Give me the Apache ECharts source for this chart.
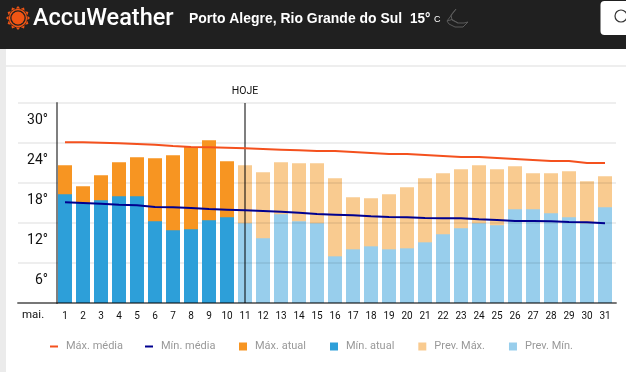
<!DOCTYPE html>
<html><head><meta charset="utf-8">
<style>html,body{margin:0;padding:0;background:#fff}#c{width:626px;height:372px}</style>
<script src="https://cdn.jsdelivr.net/npm/echarts@6/dist/echarts.min.js"></script>
</head><body><div id="c"></div>
<script>
const days = ['1','2','3','4','5','6','7','8','9','10','11','12','13','14','15','16','17','18','19','20','21','22','23','24','25','26','27','28','29','30','31'];
const avgMax = [24.1,24.1,24.05,23.95,23.85,23.75,23.55,23.4,23.35,23.3,23.2,23.1,23,22.9,22.8,22.8,22.65,22.5,22.35,22.35,22.2,22.05,21.9,21.9,21.75,21.6,21.45,21.3,21.3,21,21];
const avgMin = [15.1,15,14.9,14.75,14.65,14.4,14.35,14.25,14.1,14,13.9,13.8,13.7,13.55,13.35,13.25,13.15,13,12.9,12.85,12.75,12.7,12.7,12.55,12.45,12.3,12.3,12.25,12.15,12.1,11.95];
const actualMax = [20.65,17.5,19.15,21.1,21.85,21.7,22.15,23.4,24.4,21.25];
const actualMin = [16.3,15,15.4,16,16,12.25,10.9,11.05,12.4,12.85];
const forecastMax = [20.65,19.6,21.1,20.95,20.95,18.7,15.85,15.7,16.3,17.35,18.7,19.45,20.05,20.65,20.05,20.5,19.45,19.45,19.75,18.25,19];
const forecastMin = [11.95,9.7,13.3,12.25,11.95,7,8.05,8.5,8.05,8.2,9.1,10.3,11.2,11.95,11.65,14.05,14.05,13.45,12.85,11.95,14.35];
const monthLabel = 'mai.';
const todayLabel = 'HOJE';
const todayDay = '11';

const cond = 'Roboto,sans-serif';
const pad = (arr) => Array(days.length - arr.length).fill(null).concat(arr);
const tail = (arr) => arr.concat(Array(days.length - arr.length).fill(null));

const sunRays = [];
for (let i = 0; i < 12; i++) {
  sunRays.push({type:'polygon',x:18,y:18,rotation:i*Math.PI/6,
    shape:{points:[[-2.2,-9.5],[2.2,-9.5],[0,-12]]},style:{fill:'#f05514'},z:101});
}
const dashIcon = 'path://M0,0L0,0M0,3H8V5H0ZM8,8L8,8';

const chart = echarts.init(document.getElementById('c'), null, {renderer:'canvas'});
chart.setOption({
  animation:false,
  backgroundColor:'#fff',
  grid:[
    {left:18,right:10,top:103,height:200},
    {left:56,width:558,top:103,height:200}
  ],
  xAxis:[
    {type:'value',gridIndex:0,min:0,max:1,z:5,splitLine:{show:false},axisTick:{show:false},axisLabel:{show:false},
     axisLine:{show:true,lineStyle:{color:'rgba(0,0,0,.5)',width:2}}},
    {type:'category',gridIndex:1,data:days,z:5,axisLine:{show:false},axisTick:{show:false},
     axisLabel:{interval:0,color:'#111',fontSize:10,fontFamily:cond,margin:8}}
  ],
  yAxis:[
    {type:'value',gridIndex:0,min:0,max:30,interval:6,z:3,axisLine:{show:false},axisTick:{show:false},axisLabel:{show:false},
     splitLine:{show:true,lineStyle:{color:'rgba(0,0,0,.065)',width:2}}},
    {type:'value',gridIndex:1,min:0,max:30,interval:6,z:5,offset:-1,splitLine:{show:false},axisTick:{show:false},
     axisLine:{show:true,onZero:false,lineStyle:{color:'rgba(0,0,0,.5)',width:2}},
     axisLabel:{color:'#111',fontSize:14,fontFamily:cond,margin:9,verticalAlign:'top',lineHeight:14,padding:[10,0,0,0],
       formatter:(v)=> v===0?'':v+'°'}}
  ],
  legend:[
    {left:50,top:341,orient:'horizontal',itemWidth:8,itemHeight:8,itemGap:22,padding:0,icon:dashIcon,
     textStyle:{color:'#999',fontSize:11,fontFamily:cond,padding:[0,0,0,3]},data:['Máx. média','Mín. média']},
    {left:239,top:341,orient:'horizontal',itemWidth:8,itemHeight:8,itemGap:24,padding:0,icon:'rect',
     textStyle:{color:'#999',fontSize:11,fontFamily:cond,padding:[0,0,0,3]},data:['Máx. atual','Mín. atual','Prev. Máx.','Prev. Mín.']}
  ],
  series:[
    {name:'Prev. Máx.',type:'bar',xAxisIndex:1,yAxisIndex:1,data:pad(forecastMax),barWidth:14,barGap:'-100%',z:2,itemStyle:{color:'#F9CB90'},
     markLine:{silent:true,symbol:'none',z:6,label:{show:true,position:'end',formatter:todayLabel,color:'#111',fontSize:10.5,fontFamily:cond,distance:6},
       lineStyle:{color:'rgba(0,0,0,.5)',width:2,type:'solid'},data:[{xAxis:todayDay}]}},
    {name:'Prev. Mín.',type:'bar',xAxisIndex:1,yAxisIndex:1,data:pad(forecastMin),barWidth:14,barGap:'-100%',z:2.5,itemStyle:{color:'#98CEEC'}},
    {name:'Máx. atual',type:'bar',xAxisIndex:1,yAxisIndex:1,data:tail(actualMax),barWidth:14,barGap:'-100%',z:4,itemStyle:{color:'#F79522'}},
    {name:'Mín. atual',type:'bar',xAxisIndex:1,yAxisIndex:1,data:tail(actualMin),barWidth:14,barGap:'-100%',z:4.5,itemStyle:{color:'#2D9FD9'}},
    {name:'Máx. média',type:'line',xAxisIndex:1,yAxisIndex:1,data:avgMax,showSymbol:false,z:7,itemStyle:{color:'#F4511E'},lineStyle:{color:'#F4511E',width:2}},
    {name:'Mín. média',type:'line',xAxisIndex:1,yAxisIndex:1,data:avgMin,showSymbol:false,z:7,itemStyle:{color:'#00008F'},lineStyle:{color:'#00008F',width:2}}
  ],
  graphic:{elements:[
    {type:'rect',shape:{x:0,y:0,width:626,height:49},style:{fill:'#202020'},z:100},
    {type:'rect',shape:{x:0,y:49,width:6,height:323},style:{fill:'#ebebeb'},z:100},
    {type:'rect',shape:{x:6,y:65.5,width:620,height:1},style:{fill:'#dedede'},z:100},
    {type:'circle',shape:{cx:18,cy:18,r:6.5},style:{fill:'#f05514'},z:101},
    {type:'circle',shape:{cx:18,cy:18,r:8.5},style:{fill:'none',stroke:'#f05514',lineWidth:1.4},z:101},
    ...sunRays,
    {type:'text',x:33,y:19,scaleX:0.98,style:{text:'AccuWeather',fill:'#fff',font:'500 24px Roboto,sans-serif',verticalAlign:'middle'},z:102},
    {type:'text',x:189,y:19,scaleX:0.93,style:{text:'Porto Alegre, Rio Grande do Sul',fill:'#fff',font:'bold 15px "Liberation Sans",sans-serif',verticalAlign:'middle'},z:102},
    {type:'text',x:410,y:19,scaleX:0.9,style:{text:'15°',fill:'#fff',font:'bold 15px "Liberation Sans",sans-serif',verticalAlign:'middle'},z:102},
    {type:'text',x:434,y:20,style:{text:'C',fill:'#fff',font:'9px "Liberation Sans",sans-serif',verticalAlign:'middle'},z:102},
    {type:'polygon',shape:{points:[[456,9],[451,15],[452,20],[458,23],[464,23],[468,22],[463,27],[455,27],[449,24],[447,21],[450,17]]},style:{fill:'none',stroke:'#5a5a5a',lineWidth:1},z:102},
    {type:'polyline',shape:{points:[[447,21],[452,19.5],[458,23]]},style:{fill:'none',stroke:'#5a5a5a',lineWidth:1},z:102},
    {type:'rect',shape:{x:600.5,y:1,width:40,height:34,r:4},style:{fill:'#fff'},z:101},
    {type:'circle',shape:{cx:621,cy:16,r:6},style:{fill:'none',stroke:'#333',lineWidth:1.2},z:102},
    {type:'text',x:22,y:315.5,style:{text:monthLabel,fill:'#111',font:'11.5px Roboto,sans-serif',verticalAlign:'middle'},z:102}
  ]}
});
</script></body></html>
